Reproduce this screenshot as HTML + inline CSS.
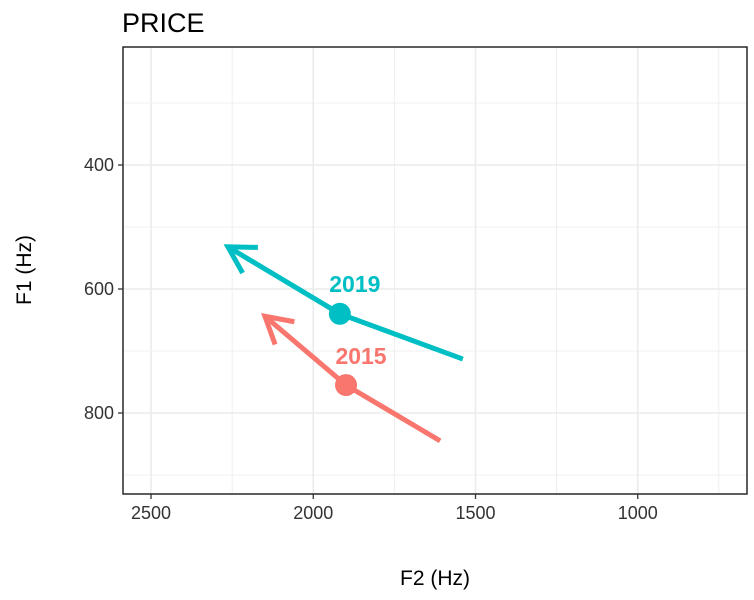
<!DOCTYPE html>
<html><head><meta charset="utf-8"><style>
body{margin:0;background:#fff;font-family:"Liberation Sans",sans-serif}
</style></head><body>
<svg id="chart" width="754" height="595" xmlns="http://www.w3.org/2000/svg">
<text x="122" y="32" font-size="27" fill="#000" font-family="Liberation Sans, sans-serif">PRICE</text>
<rect x="123" y="47" width="624" height="447" fill="#fff"/>
<g id="grid"></g>
<g id="marks"></g>
<rect x="123" y="47" width="624" height="447" fill="none" stroke="#1a1a1a" stroke-width="1.4"/>
<g id="axes"></g>
<text x="435" y="585" text-anchor="middle" font-size="21" font-family="Liberation Sans, sans-serif">F2 (Hz)</text>
<text transform="translate(31,270) rotate(-90)" text-anchor="middle" font-size="21" font-family="Liberation Sans, sans-serif">F1 (Hz)</text>
</svg>
<script>
const xTicks=[2500,2000,1500,1000];
const xMinor=[2250,1750,1250,750];
const yTicks=[400,600,800];
const yMinor=[300,500,700,900];
const years=["2019","2015"];
const startF2=[1539,1609];
const startF1=[713,845];
const midF2=[1918,1899];
const midF1=[640,755];
const endF2=[2263,2149];
const endF1=[532,644];
const colors=["#00BFC4","#F8766D"];
const labelDx=[15,15], labelDy=[-30,-29];
const X=f=>151+(2500-f)*0.3245;
const Y=v=>165+(v-400)*0.62;
const NS="http://www.w3.org/2000/svg";
const grid=document.getElementById('grid'),marks=document.getElementById('marks'),axes=document.getElementById('axes');
function mk(tag,attrs,parent){const e=document.createElementNS(NS,tag);for(const k in attrs)e.setAttribute(k,attrs[k]);parent.appendChild(e);return e;}
xMinor.forEach(v=>{const l=mk('line',{x1:X(v),x2:X(v),y1:47,y2:494,stroke:'#ebebeb','stroke-width':0.8},grid);

});
yMinor.forEach(v=>{const l=mk('line',{x1:123,x2:747,y1:Y(v),y2:Y(v),stroke:'#ebebeb','stroke-width':0.8},grid);

});
xTicks.forEach(v=>{const l=mk('line',{x1:X(v),x2:X(v),y1:47,y2:494,stroke:'#ebebeb','stroke-width':1.6},grid);


const t=mk('line',{x1:X(v),x2:X(v),y1:494,y2:499,stroke:'#333','stroke-width':1.3},axes);


const tx=mk('text',{x:X(v),y:519,'text-anchor':'middle','font-size':18,fill:'#333','font-family':'Liberation Sans, sans-serif'},axes);tx.textContent=v;

});
yTicks.forEach(v=>{const l=mk('line',{x1:123,x2:747,y1:Y(v),y2:Y(v),stroke:'#ebebeb','stroke-width':1.6},grid);


const t=mk('line',{x1:118,x2:123,y1:Y(v),y2:Y(v),stroke:'#333','stroke-width':1.3},axes);


const tx=mk('text',{x:114,y:Y(v)+6,'text-anchor':'end','font-size':18,fill:'#333','font-family':'Liberation Sans, sans-serif'},axes);tx.textContent=v;

});
years.forEach((yr,i)=>{
 const x0=X(startF2[i]),y0=Y(startF1[i]),x1=X(midF2[i]),y1=Y(midF1[i]),x2=X(endF2[i]),y2=Y(endF1[i]);
 const p=mk('path',{d:`M${x0},${y0}L${x1},${y1}L${x2},${y2}`,fill:'none',stroke:colors[i],'stroke-width':5},marks);
 
 
 const a=Math.atan2(y2-y1,x2-x1),L=30,s=0.52;
 const h=mk('path',{d:`M${x2-L*Math.cos(a-s)},${y2-L*Math.sin(a-s)}L${x2},${y2}L${x2-L*Math.cos(a+s)},${y2-L*Math.sin(a+s)}`,fill:'none',stroke:colors[i],'stroke-width':5},marks);
 
 
 const c=mk('circle',{cx:x1,cy:y1,r:11,fill:colors[i]},marks);
 
 
 const t=mk('text',{x:x1+labelDx[i],y:y1+labelDy[i]+8,'text-anchor':'middle','font-size':23,'font-weight':'bold',fill:colors[i],'font-family':'Liberation Sans, sans-serif'},marks);t.textContent=yr;
 
 
});
</script>
</body></html>
